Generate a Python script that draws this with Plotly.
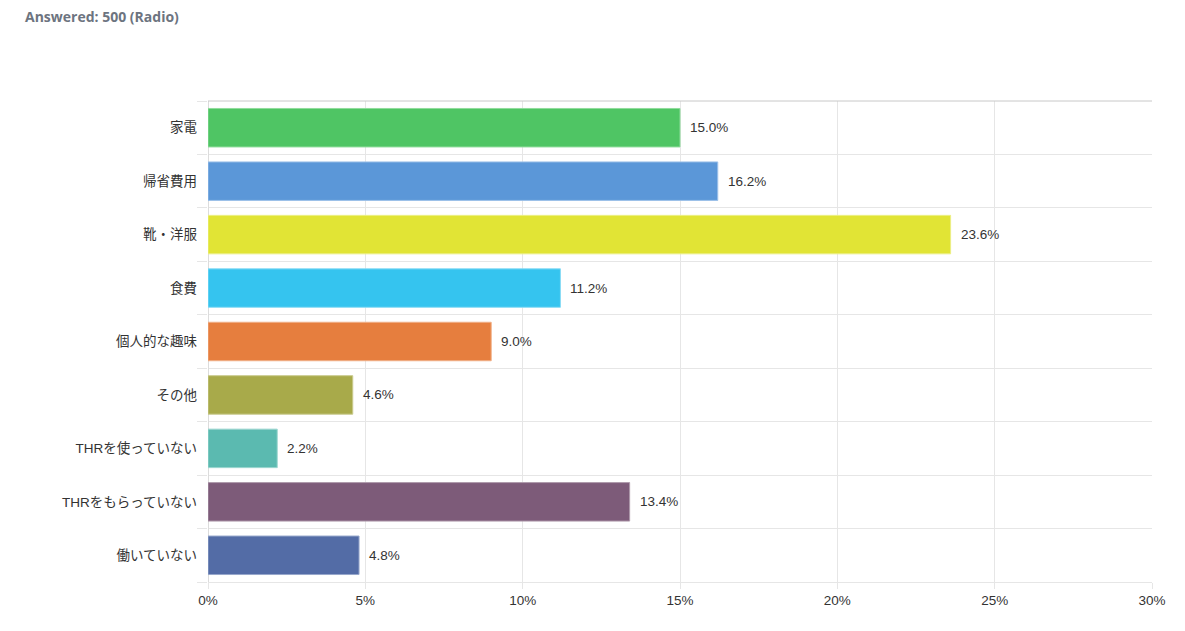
import plotly.graph_objects as go

categories = ["家電", "帰省費用", "靴・洋服", "食費", "個人的な趣味", "その他",
              "THRを使っていない", "THRをもらっていない", "働いていない"]
values = [15.0, 16.2, 23.6, 11.2, 9.0, 4.6, 2.2, 13.4, 4.8]
colors = ["#4fc564", "#5b97d8", "#e1e435", "#35c4ef", "#e67e3e",
          "#a8aa4a", "#5bbab0", "#7d5b79", "#536ca6"]
border_colors = ["#8fdc9c", "#9cc0e8", "#ecef86", "#8adcf5", "#f0ae86",
                 "#c9ca8d", "#9bd6cf", "#ae99ab", "#97a7cb"]
x_ticks = [0, 5, 10, 15, 20, 25, 30]

FONT = "Liberation Sans, Arial, Noto Sans CJK JP, sans-serif"
idx = list(range(len(categories)))

fig = go.Figure()
fig.add_trace(go.Bar(
    x=values, y=idx, orientation="h",
    marker=dict(color=colors, line=dict(color=border_colors, width=1)),
    width=0.72, hoverinfo="skip",
))

for i, v in zip(idx, values):
    fig.add_annotation(x=v, y=i, xref="x", yref="y", text=f"{v:.1f}%",
                       showarrow=False, xanchor="left", yanchor="middle",
                       xshift=8, font=dict(family=FONT, size=13.5, color="#333333"))

fig.add_shape(type="line", xref="paper", yref="paper", x0=0, x1=1, y0=1, y1=1,
              line=dict(color="#c8c8c8", width=1))

W, H = 1185, 631
fig.update_layout(
    width=W, height=H,
    margin=dict(l=200, r=41, t=93, b=57),
    paper_bgcolor="white", plot_bgcolor="white",
    showlegend=False,
    title=dict(text="<b>Answered: 500 (Radio)</b>", xref="container", yref="container",
               x=17/W, xanchor="left", y=1-9/H, yanchor="middle",
               font=dict(family="Open Sans, sans-serif", size=14, color="#6d7480")),
    font=dict(family=FONT, size=13.5, color="#333333"),
)
fig.update_xaxes(
    range=[0, 30], tickvals=x_ticks, ticktext=[f"{t}%" for t in x_ticks],
    showgrid=True, gridcolor="#e6e6e6", gridwidth=1,
    zeroline=True, zerolinecolor="#dcdcdc", zerolinewidth=1,
    showline=True, linecolor="#e6e6e6", linewidth=1,
    ticks="outside", ticklen=6, tickcolor="#e6e6e6",
    tickfont=dict(family=FONT, size=13.5, color="#333333"),
    fixedrange=True,
)
fig.update_yaxes(
    range=[len(categories) - 0.5, -0.5], tickvals=idx, ticktext=categories,
    showgrid=False, zeroline=False, showline=False, ticks="",
    ticklabelstandoff=10,
    minor=dict(tickvals=[i - 0.5 for i in idx] + [len(categories) - 0.5],
               showgrid=True, gridcolor="#e6e6e6", gridwidth=1,
               ticks="outside", ticklen=10, tickcolor="#e6e6e6"),
    tickfont=dict(family=FONT, size=13.5, color="#333333"),
    fixedrange=True,
)

fig.write_html("out.html")
